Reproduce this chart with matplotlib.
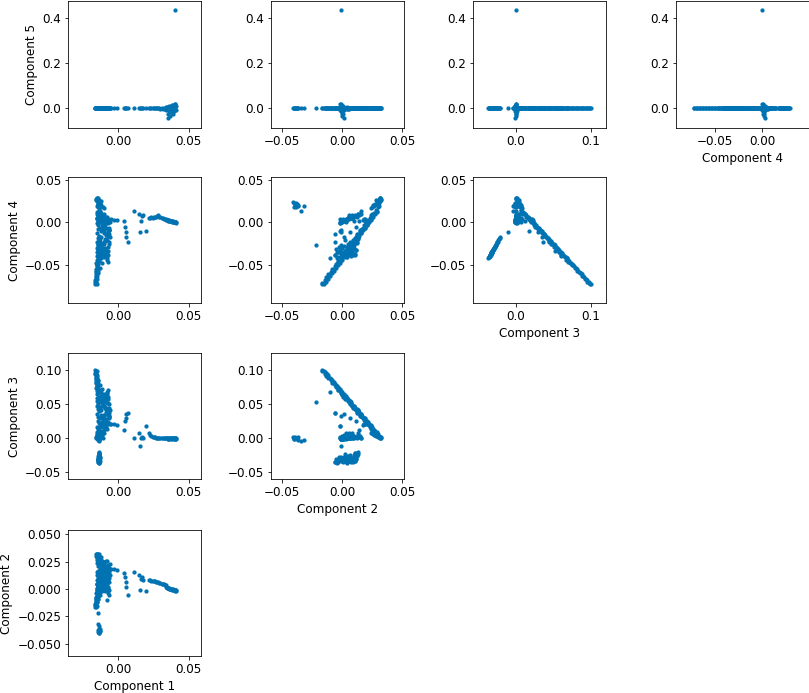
import matplotlib
matplotlib.use("Agg")
import matplotlib.pyplot as plt

# Embedding coordinates of every sample.
# Same order in every list: main diagonal branch, its end blob, body spread,
# far-left cluster, negative-c3 cluster, flat c3~0 band, extra body points,
# tail in component 1, tail end (with the component 5 spread), spokes, outlier.
comp1 = [
    # main branch
    -0.0162, -0.0158, -0.0155, -0.0160, -0.0152, -0.0157, -0.0149, -0.0154, -0.0146, -0.0151,
    -0.0143, -0.0156, -0.0140, -0.0150, -0.0145, -0.0138, -0.0152, -0.0130, -0.0147, -0.0122,
    -0.0141, -0.0150, -0.0112, -0.0135, -0.0144, -0.0098, -0.0128, -0.0148, -0.0118, -0.0137,
    -0.0106, -0.0145, -0.0125, -0.0088, -0.0140, -0.0116, -0.0132, -0.0075, -0.0146, -0.0120,
    -0.0102, -0.0138, -0.0128, -0.0095, -0.0143, -0.0112, -0.0135, -0.0082, -0.0125, -0.0148,
    -0.0108, -0.0140, -0.0130, -0.0118, -0.0145, -0.0136, -0.0142, -0.0138, -0.0147, -0.0150,
    -0.0150, -0.0163, -0.0146, -0.0158, -0.0141, -0.0153, -0.0128, -0.0149, -0.0110, -0.0135,
    -0.0095, -0.0120, -0.0080, -0.0105, -0.0068, -0.0115, -0.0090, -0.0125, -0.0072, -0.0100,
    -0.0060, -0.0085, -0.0112, -0.0055, -0.0095, -0.0078, -0.0135, -0.0128, -0.0140, -0.0133,
    # end blob
    -0.0152, -0.0145, -0.0138, -0.0128, -0.0118, -0.0150, -0.0108,
    -0.0140, -0.0132, -0.0122, -0.0148, -0.0100, -0.0155, -0.0135,
    # body spread
    -0.0110, -0.0090, -0.0070, -0.0050, -0.0030, -0.0008,
    -0.0095, -0.0085, -0.0072, -0.0075, -0.0078, -0.0068, -0.0105,
    -0.0115, -0.0100, -0.0090, -0.0080, -0.0065, -0.0105, -0.0085, -0.0060, -0.0095, -0.0125,
    -0.0112, -0.0070, -0.0063, -0.0075, -0.0060, -0.0090, -0.0140,
    # far-left cluster
    -0.0135, -0.0130, -0.0138, -0.0128, -0.0133, -0.0140, -0.0126, -0.0136, -0.0131, -0.0129,
    -0.0134, -0.0137,
    # negative component 3 cluster
    -0.0136, -0.0132, -0.0138, -0.0130, -0.0134, -0.0137, -0.0131, -0.0135, -0.0133, -0.0139,
    -0.0130, -0.0136, -0.0132, -0.0134, -0.0133, -0.0137, -0.0131,
    -0.0135, -0.0131, -0.0137, -0.0133, -0.0129, -0.0136, -0.0132, -0.0138, -0.0130, -0.0134,
    -0.0134, -0.0130, -0.0137, -0.0132, -0.0135, -0.0129, -0.0136, -0.0133, -0.0138, -0.0131,
    -0.0134, -0.0136, -0.0130, -0.0133, -0.0137, -0.0132, -0.0135, -0.0129, -0.0134, -0.0131,
    -0.0136, -0.0133, -0.0130, -0.0135,
    # flat c3~0 band
    -0.0148, -0.0140, -0.0132, -0.0145, -0.0125, -0.0138, -0.0118, -0.0150, -0.0128, -0.0135,
    -0.0112, -0.0142, -0.0120, -0.0136, -0.0105, -0.0146, -0.0130, -0.0122, -0.0139, -0.0115,
    # extra body points
    -0.0070, -0.0088, -0.0062, -0.0095, -0.0075, -0.0058, -0.0082, -0.0068, -0.0100, -0.0065,
    -0.0090, -0.0072, -0.0108, -0.0085, -0.0098, -0.0080,
    # tail
    0.0220, 0.0228, 0.0236, 0.0244, 0.0252, 0.0260, 0.0268, 0.0276, 0.0284, 0.0292,
    0.0300, 0.0308, 0.0316, 0.0324, 0.0332, 0.0340,
    # tail end
    0.0342, 0.0346, 0.0350, 0.0353, 0.0356, 0.0360, 0.0363, 0.0366, 0.0370, 0.0373,
    0.0376, 0.0380, 0.0383, 0.0386, 0.0390, 0.0393, 0.0396, 0.0400, 0.0403, 0.0406,
    0.0409, 0.0412,
    # spokes
    0.0042, 0.0047, 0.0054, 0.0060, 0.0073,
    0.0113, 0.0148, 0.0170, 0.0180, 0.0155, 0.0195, 0.0163,
    # outlier
    0.0405,
]

comp2 = [
    # main branch
    -0.0167, -0.0167, -0.0144, -0.0143, -0.0122, -0.0131, -0.0117, -0.0119, -0.0092, -0.0092,
    -0.0087, -0.0084, -0.0062, -0.0060, -0.0040, -0.0050, -0.0035, -0.0037, -0.0009, -0.0008,
    -0.0005, -0.0002, 0.0020, 0.0022, 0.0043, 0.0033, 0.0048, 0.0045, 0.0072, 0.0074,
    0.0078, 0.0081, 0.0102, 0.0104, 0.0125, 0.0116, 0.0130, 0.0127, 0.0155, 0.0156,
    0.0160, 0.0163, 0.0185, 0.0186, 0.0207, 0.0198, 0.0213, 0.0209, 0.0237, 0.0238,
    0.0243, 0.0244, 0.0267, 0.0268, 0.0290, 0.0280, 0.0296, 0.0290, 0.0318, 0.0316,
    -0.0153, -0.0136, -0.0120, -0.0103, -0.0087, -0.0070, -0.0054, -0.0037, -0.0021, -0.0004,
    0.0012, 0.0029, 0.0045, 0.0062, 0.0078, 0.0095, 0.0111, 0.0128, 0.0144, 0.0161,
    0.0177, 0.0194, 0.0210, 0.0227, 0.0243, 0.0260, 0.0276, 0.0293, 0.0309, 0.0322,
    # end blob
    0.0300, 0.0312, 0.0288, 0.0276, 0.0295, 0.0262, 0.0250,
    0.0318, 0.0305, 0.0268, 0.0284, 0.0240, 0.0322, 0.0258,
    # body spread
    0.0200, 0.0196, 0.0190, 0.0185, 0.0180, 0.0175,
    0.0015, 0.0022, 0.0005, -0.0012, 0.0065, -0.0035, 0.0040,
    0.0170, 0.0150, 0.0200, 0.0135, 0.0160, 0.0225, 0.0110, 0.0100, 0.0085, 0.0235,
    0.0060, 0.0205, -0.0056, -0.0100, -0.0010, -0.0014, -0.0215,
    # far-left cluster
    -0.0405, -0.0398, -0.0392, -0.0386, -0.0380, -0.0374, -0.0368, -0.0362, -0.0395, -0.0383,
    -0.0340, -0.0315,
    # negative component 3 cluster
    -0.0045, 0.0030, -0.0060, 0.0085, 0.0010, -0.0020, 0.0100, 0.0040, -0.0005, 0.0120,
    0.0065, 0.0025, 0.0110, 0.0135, 0.0055, -0.0035, 0.0090,
    0.0070, -0.0010, 0.0045, -0.0050, 0.0080, 0.0020, 0.0105, -0.0025, 0.0050, 0.0115,
    0.0040, -0.0030, 0.0090, 0.0010, -0.0055, 0.0065, 0.0020, 0.0105, -0.0015, 0.0050,
    0.0085, -0.0040, 0.0030, 0.0115, 0.0000, 0.0070, 0.0045, -0.0025, 0.0095, 0.0060,
    0.0125, 0.0100, 0.0130, 0.0110,
    # flat c3~0 band
    -0.0020, -0.0010, 0.0000, 0.0010, 0.0020, 0.0030, 0.0040, 0.0050, 0.0060, 0.0070,
    0.0080, 0.0090, 0.0100, 0.0110, 0.0120, 0.0130, 0.0140, 0.0150, 0.0160, 0.0035,
    # extra body points
    0.0023, 0.0067, 0.0062, 0.0101, 0.0091, 0.0130, 0.0120, 0.0160, 0.0149, 0.0189,
    0.0178, 0.0218, 0.0208, 0.0252, 0.0247, -0.0002,
    # tail
    0.0082, 0.0079, 0.0076, 0.0074, 0.0071, 0.0069, 0.0067, 0.0064, 0.0060, 0.0057,
    0.0054, 0.0050, 0.0047, 0.0044, 0.0041, 0.0037,
    # tail end
    0.0015, 0.0010, 0.0012, 0.0005, 0.0008, 0.0002, 0.0006, -0.0001, 0.0003, -0.0004,
    0.0000, -0.0006, -0.0002, -0.0008, -0.0004, -0.0010, -0.0007, -0.0012, -0.0009, -0.0014,
    -0.0011, -0.0016,
    # spokes
    0.0143, 0.0113, 0.0067, 0.0020, -0.0055,
    0.0159, 0.0128, 0.0113, 0.0080, -0.0010, -0.0020, 0.0095,
    # outlier
    -0.0010,
]

comp3 = [
    # main branch
    0.1000, 0.0981, 0.0968, 0.0947, 0.0934, 0.0913, 0.0900, 0.0879, 0.0866, 0.0845,
    0.0833, 0.0812, 0.0799, 0.0778, 0.0765, 0.0744, 0.0731, 0.0710, 0.0697, 0.0676,
    0.0663, 0.0642, 0.0629, 0.0608, 0.0595, 0.0574, 0.0561, 0.0540, 0.0527, 0.0506,
    0.0494, 0.0473, 0.0460, 0.0439, 0.0426, 0.0405, 0.0392, 0.0371, 0.0358, 0.0337,
    0.0324, 0.0303, 0.0290, 0.0269, 0.0256, 0.0235, 0.0222, 0.0201, 0.0188, 0.0167,
    0.0155, 0.0134, 0.0121, 0.0100, 0.0087, 0.0066, 0.0053, 0.0036, 0.0019, 0.0004,
    0.0987, 0.0953, 0.0919, 0.0885, 0.0851, 0.0817, 0.0783, 0.0749, 0.0715, 0.0681,
    0.0647, 0.0613, 0.0579, 0.0545, 0.0511, 0.0477, 0.0443, 0.0409, 0.0375, 0.0341,
    0.0307, 0.0273, 0.0239, 0.0205, 0.0171, 0.0137, 0.0103, 0.0069, 0.0035, 0.0012,
    # end blob
    0.0020, 0.0010, 0.0040, 0.0050, 0.0025, 0.0060, 0.0070,
    0.0005, 0.0015, 0.0045, 0.0032, 0.0080, 0.0000, 0.0065,
    # body spread
    0.0220, 0.0215, 0.0210, 0.0205, 0.0200, 0.0195,
    0.0602, 0.0595, 0.0600, 0.0668, 0.0520, 0.0700, 0.0580,
    0.0300, 0.0340, 0.0240, 0.0370, 0.0320, 0.0190, 0.0420, 0.0440, 0.0470, 0.0165,
    0.0530, 0.0225, 0.0370, 0.0680, 0.0320, 0.0173, 0.0525,
    # far-left cluster
    0.0015, -0.0010, 0.0020, -0.0005, 0.0005, -0.0020, 0.0010, -0.0030, -0.0015, 0.0000,
    -0.0040, -0.0035,
    # negative component 3 cluster
    -0.0370, -0.0358, -0.0346, -0.0334, -0.0322, -0.0310, -0.0298, -0.0286, -0.0274, -0.0262,
    -0.0250, -0.0238, -0.0226, -0.0212, -0.0340, -0.0328, -0.0335,
    -0.0352, -0.0340, -0.0316, -0.0304, -0.0292, -0.0280, -0.0345, -0.0325, -0.0268, -0.0310,
    -0.0365, -0.0360, -0.0355, -0.0350, -0.0348, -0.0342, -0.0338, -0.0332, -0.0330, -0.0325,
    -0.0320, -0.0318, -0.0312, -0.0305, -0.0300, -0.0295, -0.0288, -0.0282, -0.0275, -0.0265,
    -0.0255, -0.0245, -0.0232, -0.0220,
    # flat c3~0 band
    0.0010, -0.0015, 0.0030, 0.0000, 0.0045, -0.0010, 0.0060, 0.0020, 0.0080, 0.0005,
    0.0050, -0.0005, 0.0030, 0.0015, 0.0000, 0.0040, 0.0010, 0.0025, 0.0000, 0.0070,
    # extra body points
    0.0580, 0.0540, 0.0500, 0.0470, 0.0440, 0.0410, 0.0380, 0.0350, 0.0320, 0.0290,
    0.0260, 0.0230, 0.0200, 0.0160, 0.0120, 0.0630,
    # tail
    0.0070, 0.0040, 0.0025, 0.0015, 0.0010, 0.0008, 0.0005, 0.0004, 0.0002, 0.0000,
    -0.0002, 0.0001, -0.0004, -0.0003, -0.0006, -0.0005,
    # tail end
    -0.0005, 0.0004, -0.0010, 0.0000, -0.0008, 0.0006, -0.0012, -0.0003, 0.0002, -0.0009,
    -0.0004, 0.0005, -0.0011, -0.0002, -0.0007, 0.0003, -0.0013, -0.0005, -0.0009, 0.0000,
    -0.0012, -0.0006,
    # spokes
    0.0124, 0.0248, 0.0297, 0.0347, 0.0360,
    0.0000, 0.0074, 0.0010, 0.0000, -0.0114, 0.0173, 0.0002,
    # outlier
    -0.0008,
]

comp4 = [
    # main branch
    -0.0725, -0.0707, -0.0695, -0.0675, -0.0664, -0.0644, -0.0632, -0.0612, -0.0600, -0.0580,
    -0.0569, -0.0549, -0.0537, -0.0517, -0.0505, -0.0485, -0.0473, -0.0454, -0.0442, -0.0422,
    -0.0410, -0.0390, -0.0378, -0.0358, -0.0347, -0.0327, -0.0315, -0.0295, -0.0283, -0.0263,
    -0.0252, -0.0232, -0.0220, -0.0200, -0.0188, -0.0168, -0.0156, -0.0136, -0.0125, -0.0105,
    -0.0093, -0.0073, -0.0061, -0.0041, -0.0029, -0.0010, 0.0002, 0.0022, 0.0034, 0.0054,
    0.0066, 0.0085, 0.0097, 0.0117, 0.0129, 0.0150, 0.0180, 0.0212, 0.0248, 0.0288,
    -0.0727, -0.0695, -0.0663, -0.0632, -0.0600, -0.0568, -0.0537, -0.0505, -0.0473, -0.0441,
    -0.0410, -0.0378, -0.0346, -0.0314, -0.0283, -0.0251, -0.0219, -0.0187, -0.0156, -0.0124,
    -0.0092, -0.0060, -0.0029, 0.0003, 0.0035, 0.0066, 0.0098, 0.0135, 0.0190, 0.0260,
    # end blob
    0.0270, 0.0285, 0.0240, 0.0215, 0.0255, 0.0190, 0.0185,
    0.0292, 0.0230, 0.0205, 0.0262, 0.0170, 0.0275, 0.0200,
    # body spread
    0.0030, 0.0020, 0.0035, 0.0040, 0.0028, 0.0032,
    -0.0375, -0.0390, -0.0385, -0.0436, -0.0330, -0.0460, -0.0350,
    -0.0070, -0.0100, -0.0010, -0.0140, -0.0090, 0.0030, -0.0190, -0.0230, -0.0250, 0.0050,
    -0.0300, 0.0000, -0.0140, -0.0420, -0.0090, 0.0040, -0.0265,
    # far-left cluster
    0.0240, 0.0225, 0.0210, 0.0232, 0.0200, 0.0218, 0.0190, 0.0205, 0.0185, 0.0178,
    0.0137, 0.0195,
    # negative component 3 cluster
    -0.0420, -0.0401, -0.0382, -0.0362, -0.0343, -0.0324, -0.0305, -0.0286, -0.0266, -0.0247,
    -0.0228, -0.0209, -0.0190, -0.0167, -0.0372, -0.0353, -0.0364,
    -0.0391, -0.0372, -0.0334, -0.0314, -0.0295, -0.0276, -0.0380, -0.0348, -0.0257, -0.0324,
    -0.0404, -0.0412, -0.0388, -0.0396, -0.0377, -0.0383, -0.0361, -0.0367, -0.0348, -0.0356,
    -0.0332, -0.0345, -0.0319, -0.0324, -0.0300, -0.0308, -0.0281, -0.0287, -0.0260, -0.0260,
    -0.0228, -0.0228, -0.0191, -0.0188,
    # flat c3~0 band
    -0.0010, 0.0020, 0.0005, 0.0035, 0.0015, 0.0045, 0.0030, 0.0055, 0.0035, 0.0065,
    0.0050, 0.0075, 0.0060, 0.0085, 0.0070, 0.0095, 0.0085, 0.0105, 0.0100, 0.0010,
    # extra body points
    -0.0332, -0.0295, -0.0258, -0.0229, -0.0201, -0.0173, -0.0145, -0.0117, -0.0089, -0.0061,
    -0.0033, -0.0005, 0.0023, 0.0060, 0.0098, -0.0379,
    # tail
    0.0056, 0.0050, 0.0062, 0.0058, 0.0065, 0.0060, 0.0070, 0.0075, 0.0082, 0.0070,
    0.0065, 0.0058, 0.0050, 0.0045, 0.0040, 0.0035,
    # tail end
    0.0030, 0.0025, 0.0028, 0.0022, 0.0026, 0.0018, 0.0024, 0.0015, 0.0020, 0.0012,
    0.0018, 0.0010, 0.0014, 0.0008, 0.0012, 0.0005, 0.0010, 0.0003, 0.0007, 0.0001,
    0.0004, -0.0002,
    # spokes
    0.0016, -0.0048, -0.0107, -0.0167, -0.0226,
    0.0131, 0.0095, 0.0080, 0.0083, -0.0115, -0.0095, 0.0016,
    # outlier
    0.0002,
]

comp5 = [
    # main branch (90 points, all on the zero line)
    0.0, 0.0, 0.0, 0.0, 0.0, 0.0, 0.0, 0.0, 0.0, 0.0,
    0.0, 0.0, 0.0, 0.0, 0.0, 0.0, 0.0, 0.0, 0.0, 0.0,
    0.0, 0.0, 0.0, 0.0, 0.0, 0.0, 0.0, 0.0, 0.0, 0.0,
    0.0, 0.0, 0.0, 0.0, 0.0, 0.0, 0.0, 0.0, 0.0, 0.0,
    0.0, 0.0, 0.0, 0.0, 0.0, 0.0, 0.0, 0.0, 0.0, 0.0,
    0.0, 0.0, 0.0, 0.0, 0.0, 0.0, 0.0, 0.0, 0.0, 0.0,
    0.0, 0.0, 0.0, 0.0, 0.0, 0.0, 0.0, 0.0, 0.0, 0.0,
    0.0, 0.0, 0.0, 0.0, 0.0, 0.0, 0.0, 0.0, 0.0, 0.0,
    0.0, 0.0, 0.0, 0.0, 0.0, 0.0, 0.0, 0.0, 0.0, 0.0,
    # end blob
    0.0, 0.0, 0.0, 0.0, 0.0, 0.0, 0.0,
    0.0, 0.0, 0.0, 0.0, 0.0, 0.0, 0.0,
    # body spread
    0.0, 0.0, 0.0, 0.0, 0.0, 0.0,
    0.0, 0.0, 0.0, 0.0, 0.0, 0.0, 0.0,
    0.0, 0.0, 0.0, 0.0, 0.0, 0.0, 0.0, 0.0, 0.0, 0.0,
    0.0, 0.0, 0.0, 0.0, 0.0, 0.0, 0.0,
    # far-left cluster
    0.0, 0.0, 0.0, 0.0, 0.0, 0.0, 0.0, 0.0, 0.0, 0.0,
    0.0, 0.0,
    # negative component 3 cluster
    0.0, 0.0, 0.0, 0.0, 0.0, 0.0, 0.0, 0.0, 0.0, 0.0,
    0.0, 0.0, 0.0, 0.0, 0.0, 0.0, 0.0,
    0.0, 0.0, 0.0, 0.0, 0.0, 0.0, 0.0, 0.0, 0.0, 0.0,
    0.0, 0.0, 0.0, 0.0, 0.0, 0.0, 0.0, 0.0, 0.0, 0.0,
    0.0, 0.0, 0.0, 0.0, 0.0, 0.0, 0.0, 0.0, 0.0, 0.0,
    0.0, 0.0, 0.0, 0.0,
    # flat c3~0 band
    0.0, 0.0, 0.0, 0.0, 0.0, 0.0, 0.0, 0.0, 0.0, 0.0,
    0.0, 0.0, 0.0, 0.0, 0.0, 0.0, 0.0, 0.0, 0.0, 0.0,
    # extra body points
    0.0, 0.0, 0.0, 0.0, 0.0, 0.0, 0.0, 0.0, 0.0, 0.0,
    0.0, 0.0, 0.0, 0.0, 0.0, 0.0,
    # tail
    0.0, 0.0, 0.0, 0.0, 0.0, 0.0, 0.0, 0.0, -0.0010, 0.0010,
    -0.0020, 0.0015, -0.0030, 0.0020, -0.0045, 0.0030,
    # tail end
    -0.0060, 0.0040, -0.0450, -0.0250, 0.0060, -0.0120, 0.0080, -0.0350, -0.0080, 0.0100,
    -0.0180, 0.0120, -0.0050, 0.0150, -0.0280, 0.0050, -0.0120, 0.0180, -0.0030, 0.0200,
    0.0090, -0.0080,
    # spokes
    0.0, 0.0, 0.0, 0.0, 0.0,
    0.0, 0.0, 0.0, 0.0, 0.0, 0.0, 0.0,
    # outlier
    0.4350,
]

names = ["Component 1", "Component 2", "Component 3", "Component 4", "Component 5"]

# axis ranges and ticks (x range per column, y range per row)
xlims = {0: (-0.035, 0.0588), 1: (-0.0592, 0.0511), 2: (-0.0576, 0.1202), 3: (-0.0915, 0.0495)}
xticks = {0: [0.0, 0.05], 1: [-0.05, 0.0, 0.05], 2: [0.0, 0.1], 3: [-0.05, 0.0]}
ylims = {4: (-0.086, 0.476), 3: (-0.0953, 0.0535), 2: (-0.061, 0.1249), 1: (-0.0616, 0.0539)}
yticks = {4: [0.0, 0.2, 0.4], 3: [-0.05, 0.0, 0.05], 2: [-0.05, 0.0, 0.05, 0.10],
          1: [-0.05, -0.025, 0.0, 0.025, 0.05]}

comps = [comp1, comp2, comp3, comp4, comp5]
n = len(comp1)
assert all(len(c) == n for c in comps), [len(c) for c in comps]

plt.rcParams["font.size"] = 12
blue = "#0173b2"

fig = plt.figure(figsize=(809 / 72, 693 / 72), dpi=72)
col_left = [0.0844, 0.3346, 0.5847, 0.8356]
row_bottom = [0.8160, 0.5621, 0.3081, 0.0527]
w, h = 0.1644, 0.1825

# lower triangle only: row r shows component 5-r against components 1..4-r
for r in range(4):
    yi = 4 - r
    for c in range(4 - r):
        ax = fig.add_axes([col_left[c], row_bottom[r], w, h])
        ax.scatter(comps[c], comps[yi], s=18, color=blue, linewidths=0)
        ax.set_xlim(*xlims[c])
        ax.set_ylim(*ylims[yi])
        ax.set_xticks(xticks[c])
        ax.set_yticks(yticks[yi])
        if c == 0:
            ax.set_ylabel(names[yi])
        if c == 3 - r:
            ax.set_xlabel(names[c])

fig.savefig("out.png", dpi=72)
